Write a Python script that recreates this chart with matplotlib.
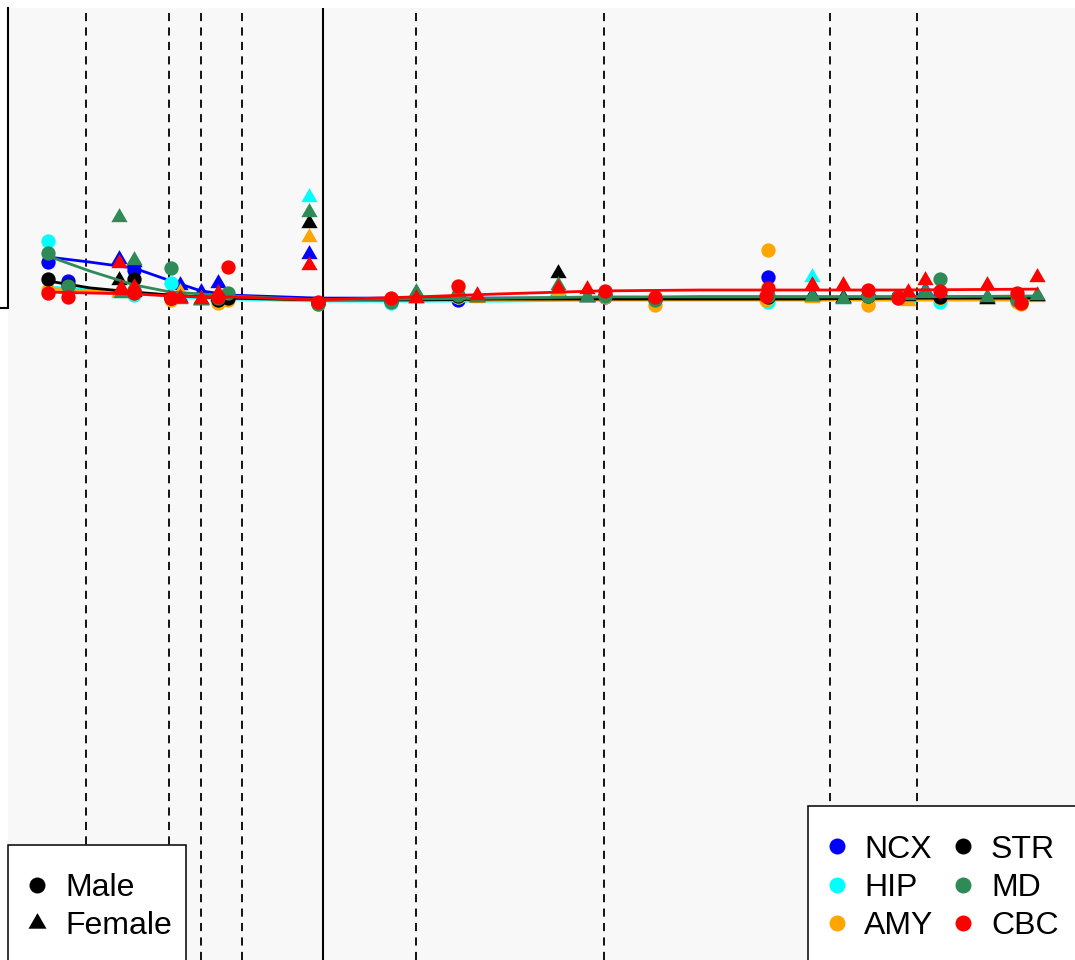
import numpy as np
import matplotlib.pyplot as plt
from matplotlib.patches import Rectangle

plt.rcParams['font.family'] = ['Liberation Sans', 'DejaVu Sans']

# === Données ===
nan = np.nan
regions = ["NCX", "HIP", "AMY", "STR", "MD", "CBC"]
colors = ["#0000FF", "#00FFFF", "#FFA500", "#000000", "#2E8B57", "#FF0000"]

age = [48, 68, 119, 121, 134, 134, 171, 180, 201, 218, 218, 228, 309, 318,
       391, 416, 458, 477, 558, 587, 605, 655, 768, 766, 812, 843, 868, 898,
       908, 925, 940, 987, 1017, 1021, 1037]
sex = ["M", "M", "F", "F", "M", "F", "M", "F", "F", "F", "M", "M", "F", "M",
       "M", "F", "M", "F", "F", "F", "M", "M", "M", "M", "F", "F", "M", "M",
       "F", "F", "M", "F", "M", "M", "F"]

ncx = [15.3, 9.0, 16.3, nan, 12.7, 15.3, 3.7, 7.7, 5.3, 8.3, nan, 4.0, 18.0, 1.7,
       2.7, 3.3, 2.7, 3.7, 5.7, 3.7, 3.7, 3.0, 10.3, nan, 4.3, 3.3, 4.0, 3.7,
       4.0, 6.0, 4.0, 3.3, 3.7, nan, 4.0]
hip = [22.3, 6.7, 5.0, nan, 4.3, nan, 8.3, 4.0, 2.7, 3.7, 2.3, 3.3, 37.0, 1.7,
       1.7, 3.3, 3.7, 3.7, 6.0, 3.7, 4.0, 2.7, 2.0, nan, 10.3, 3.0, 4.0, 4.0,
       3.3, 5.7, 2.0, 3.0, 2.7, nan, 4.0]
amy = [6.0, 6.0, 5.3, nan, 5.3, 5.7, 2.7, 5.3, 3.0, 4.0, 1.7, 2.7, 23.7, 1.3,
       2.3, 3.7, 3.7, 3.3, 5.3, 3.7, 3.7, 1.0, 19.3, 2.7, 3.3, 3.3, 1.0, 3.3,
       2.3, 5.0, 3.3, 3.0, 2.0, 1.3, 3.7]
strr = [9.7, 7.7, 9.3, nan, 9.7, 5.3, 3.3, 3.3, 2.7, 4.0, 2.7, 3.3, 28.3, 1.7,
        2.3, 5.0, 4.0, 3.7, 11.7, 3.7, 4.3, 3.0, 3.7, nan, 4.0, 3.3, 4.0, 3.7,
        4.0, 5.3, 3.7, 3.0, 3.0, nan, 4.0]
md = [18.3, 7.3, 30.3, 5.0, 6.0, 16.0, 13.3, 3.0, 2.7, 4.7, 3.3, 5.0, 32.0, 1.3,
      2.0, 5.3, 4.3, 3.7, 7.7, 3.7, 4.0, 2.7, 4.0, nan, 4.0, 3.0, 4.0, 3.7,
      4.3, 5.3, 9.7, 3.7, 2.7, 2.0, 4.3]
cbc = [5.0, 3.7, 15.0, 6.7, 5.0, 7.0, 3.3, 3.3, 3.0, 5.0, 3.7, 13.7, 14.3, 2.0,
       3.3, 3.3, 7.3, 4.3, 6.7, 6.3, 5.7, 3.7, 6.7, 4.0, 7.7, 7.7, 6.0, 3.3,
       5.3, 9.3, 5.7, 7.7, 5.0, 1.7, 10.3]
values = [ncx, hip, amy, strr, md, cbc]

# courbes lissées
fit_age = [48, 90, 134, 171, 201, 230, 318, 416, 500, 600, 700, 800, 900, 1037]
fit_ncx = [17.0, 15.3, 13.3, 9.0, 5.7, 4.3, 3.3, 3.3, 3.3, 3.3, 3.7, 3.7, 3.7, 3.7]
fit_hip = [7.0, 6.0, 5.0, 4.0, 3.3, 3.0, 2.3, 2.3, 2.3, 2.7, 2.7, 2.7, 2.7, 2.7]
fit_amy = [6.3, 5.7, 5.0, 4.3, 3.7, 3.3, 2.7, 2.7, 2.7, 2.7, 2.7, 2.7, 2.7, 2.7]
fit_str = [9.0, 6.7, 5.3, 4.3, 3.7, 3.3, 2.7, 2.7, 3.0, 3.0, 3.0, 3.0, 3.3, 3.3]
fit_md = [17.3, 12.3, 7.7, 5.3, 4.7, 4.0, 2.7, 3.0, 3.3, 3.7, 3.7, 3.7, 3.7, 4.0]
fit_cbc = [5.3, 5.0, 4.7, 4.0, 3.7, 3.7, 2.7, 3.7, 4.7, 5.7, 6.0, 6.0, 6.0, 6.3]
fits = [fit_ncx, fit_hip, fit_amy, fit_str, fit_md, fit_cbc]

dashed_at = [86, 169, 201, 242, 416, 604, 830, 917]
solid_at = 323

# === Figure ===
fig = plt.figure(figsize=(10.75, 9.6), dpi=100)
ax = fig.add_axes([8 / 1075, 0, 1067 / 1075, 952 / 960])
ax.set_facecolor("#F8F8F8")
ax.set_xlim(8, 1075)
ax.set_ylim(-217.33, 100)

tri = [(-1, -0.577), (1, -0.577), (0, 1.155)]

for v in dashed_at:
    ax.axvline(v, color="black", lw=1.3, ls=(0, (4.5, 3.5)), zorder=1)
ax.axvline(solid_at, color="black", lw=1.5, zorder=1)

age_a = np.array(age)
sex_a = np.array(sex)
for reg, col, vals, fit in zip(regions, colors, values, fits):
    vals = np.array(vals)
    m = sex_a == "M"
    f = sex_a == "F"
    ax.plot(age_a[m], vals[m], ls="none", marker="o", ms=10.3, color=col, mew=0, zorder=3)
    ax.plot(age_a[f], vals[f], ls="none", marker=tri, ms=13.5, color=col, mew=0, zorder=3)
    ax.plot(fit_age, fit, color=col, lw=2.0, zorder=3)

for s in ["top", "right", "bottom"]:
    ax.spines[s].set_visible(False)
ax.spines["left"].set_bounds(0, 100)
ax.spines["left"].set_linewidth(1.5)
ax.set_xticks([])
ax.set_yticks([0])
ax.tick_params(axis="y", length=5.8, width=1.5, labelleft=False)

# === Légendes ===
ov = fig.add_axes([0, 0, 1, 1])
ov.set_xlim(0, 1075)
ov.set_ylim(960, 0)
ov.axis("off")
ov.patch.set_alpha(0)

ov.add_patch(Rectangle((8, 845), 178, 140, facecolor="white", edgecolor="black", lw=1.1))
ov.plot(37, 884.5, "o", ms=11.5, color="black", mew=0)
ov.plot(37, 922.5, marker=tri, ms=15, color="black", mew=0)
ov.text(65, 896, "Male", fontsize=23, va="baseline")
ov.text(65, 934, "Female", fontsize=23, va="baseline")

ov.add_patch(Rectangle((808, 806), 300, 180, facecolor="white", edgecolor="black", lw=1.1))
rows = [846, 884.5, 922.5]
for i, (reg, col) in enumerate(zip(regions, colors)):
    cx = 837 if i < 3 else 963
    tx = 864 if i < 3 else 991
    cy = rows[i % 3]
    ov.plot(cx, cy, "o", ms=11.5, color=col, mew=0)
    ov.text(tx, cy + 11.5, reg, fontsize=23, va="baseline")

fig.savefig("out.png", dpi=100)
